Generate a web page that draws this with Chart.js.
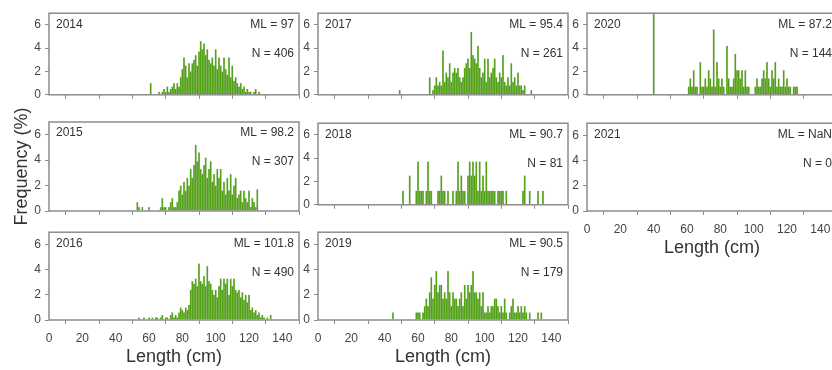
<!DOCTYPE html>
<html>
<head>
<meta charset="utf-8">
<title>Length frequency by year</title>
<script src="https://cdn.jsdelivr.net/npm/chart.js@4.4.1/dist/chart.umd.min.js"></script>
<style>
  html, body { margin: 0; padding: 0; background: #fff; overflow: hidden; }
  #figure { position: relative; width: 832px; height: 370px; overflow: hidden; }
  #figure canvas { position: absolute; }
</style>
</head>
<body>
<div id="figure"></div>
<script>
// Panels in layout order (column by column)
const years = ['2014', '2015', '2016', '2017', '2018', '2019', '2020', '2021'];
const meanLengths = ['97', '98.2', '101.8', '95.4', '90.7', '90.5', '87.2', 'NaN'];
const sampleSizes = ['406', '307', '490', '261', '81', '179', '144', '0'];

// Frequency (%) per 1 cm length class; first class is startYYYY
const start2014 = 61;
const freq2014 = [1.0, 0, 0, 0, 0, 0.25, 0, 0.25, 0.5, 0.25, 0.7, 0.25, 0.5, 0.7, 1.0,
  0.5, 1.0, 0.7, 1.5, 2.2, 3.2, 2.5, 1.5, 2.7, 2.0, 2.7, 3.0, 3.4, 2.5, 3.7,
  4.6, 3.9, 4.4, 3.4, 3.9, 3.0, 2.7, 3.2, 2.5, 3.9, 2.2, 3.2, 2.5, 2.0, 3.2,
  2.2, 1.7, 3.2, 1.5, 2.5, 1.2, 1.5, 1.0, 0.7, 1.0, 0.5, 0.7, 0.25, 0.5, 0.25,
  0.25, 0, 0.25, 0.5, 0, 0.25];

const start2015 = 53;
const freq2015 = [0.7, 0.3, 0, 0.3, 0, 0, 0, 0.3, 0, 0, 0, 0, 0, 0, 0.3,
  1.0, 0.3, 0.3, 0, 0.3, 0.7, 1.0, 0.3, 0.3, 0.7, 1.6, 2.0, 1.3, 2.3, 1.6,
  2.6, 2.0, 3.3, 2.6, 3.6, 5.2, 3.9, 4.6, 3.3, 2.9, 3.6, 4.2, 2.6, 3.3, 3.9,
  2.3, 2.9, 2.0, 3.3, 2.6, 3.3, 1.6, 2.3, 1.3, 2.6, 1.6, 2.9, 1.3, 2.0, 2.6,
  1.0, 1.3, 1.6, 0.7, 1.6, 1.0, 0.7, 1.6, 0.3, 1.0, 0.7, 0.3, 1.7];

const start2016 = 54;
const freq2016 = [0.2, 0, 0, 0.2, 0, 0, 0.2, 0, 0.2, 0, 0.2, 0.2, 0, 0.2, 0.4,
  0, 0.2, 0.2, 0, 0.4, 0.6, 0.2, 0.4, 0.2, 0.6, 1.0, 0.8, 0.6, 1.0, 0.8,
  1.2, 2.4, 3.1, 2.9, 3.3, 2.7, 4.5, 3.1, 2.9, 3.5, 2.7, 4.3, 3.1, 2.9, 2.4,
  2.0, 2.4, 1.8, 2.7, 3.3, 2.4, 3.3, 2.9, 3.3, 2.0, 3.3, 2.7, 3.3, 2.4, 2.2,
  2.4, 1.8, 2.2, 1.6, 2.0, 1.4, 2.0, 0.8, 1.0, 0.6, 0.8, 0.4, 0.6, 0.2, 0.4,
  0.2, 0, 0.2, 0, 0.4];

const start2017 = 49;
const freq2017 = [0.4, 0, 0, 0, 0, 0, 0, 0, 0, 0, 0, 0, 0, 0, 0, 0, 0, 0,
  1.5, 0, 0.4, 0.8, 1.5, 0.8, 1.1, 0.8, 3.8, 1.1, 1.9, 1.5, 2.7, 1.1, 1.9,
  2.3, 1.9, 2.3, 1.5, 1.1, 1.5, 2.3, 2.7, 3.1, 2.3, 5.4, 3.4, 3.1, 2.7, 4.2,
  2.3, 1.5, 1.9, 3.1, 1.1, 3.1, 1.5, 1.9, 2.3, 3.1, 1.5, 1.1, 1.9, 1.5, 3.4,
  1.1, 0.8, 1.5, 0.8, 2.7, 1.1, 1.5, 0.8, 1.9, 0.8, 0.8, 0.4, 0.8, 0, 0, 0, 0.4];

const start2018 = 51;
const freq2018 = [1.2, 0, 0, 0, 2.5, 0, 0, 0, 1.2, 3.7, 1.2, 1.2, 1.2, 0, 1.2,
  3.7, 1.2, 1.2, 0, 0, 0, 1.2, 1.2, 2.5, 1.2, 1.2, 0, 1.2, 0, 0,
  1.2, 0, 1.2, 3.7, 1.2, 2.5, 1.2, 1.2, 0, 2.5, 3.7, 2.5, 3.7, 2.5, 3.7,
  1.2, 3.7, 1.2, 2.5, 1.2, 3.7, 1.2, 1.2, 1.2, 1.2, 1.2, 0, 1.2, 1.2, 1.2,
  1.2, 0, 1.2, 0, 0, 0, 0, 0, 0, 0, 0, 0, 1.2, 2.5, 0, 0, 1.2, 0, 0, 0, 0,
  1.2, 0, 0, 1.2];

const start2019 = 45;
const freq2019 = [0.6, 0, 0, 0, 0, 0, 0, 0, 0, 0, 0, 0, 0, 0, 0.6, 0.6, 0.6, 0,
  0.6, 1.1, 1.7, 1.1, 2.2, 3.4, 1.7, 2.8, 3.9, 2.2, 2.8, 2.8, 1.7, 2.2, 1.7,
  3.9, 2.2, 1.1, 2.2, 1.7, 1.7, 1.1, 1.7, 2.2, 1.1, 2.8, 1.7, 2.8, 2.2, 2.8,
  3.9, 2.2, 2.2, 1.7, 2.2, 1.1, 2.2, 0.6, 0.6, 1.1, 0.6, 1.1, 1.1, 1.7, 1.7,
  1.1, 0.6, 1.1, 0.6, 1.7, 0.6, 0, 0.6, 1.1, 1.7, 0.6, 0.6, 1.1, 0.6, 1.1,
  0.6, 1.1, 0.6, 0, 0.6, 0, 0, 0, 0, 0.6, 0, 0.6];

const start2020 = 40;
const freq2020 = [7, 0, 0, 0, 0, 0, 0, 0, 0, 0, 0, 0, 0, 0, 0, 0, 0, 0, 0, 0, 0,
  0.7, 1.4, 0.7, 2.1, 0.7, 0.7, 0, 2.8, 0.7, 0.7, 1.4, 0.7, 2.1, 1.4, 0.7,
  5.6, 0.7, 2.8, 1.4, 0.7, 1.4, 0.7, 0, 4.2, 1.4, 0.7, 0.7, 1.4, 3.5, 2.1,
  2.1, 1.4, 2.1, 0.7, 2.1, 0.7, 0.7, 0, 0, 0, 0.7, 1.4, 0.7, 0.7, 1.4, 2.1,
  1.4, 2.8, 1.4, 0.7, 2.1, 1.4, 2.8, 0.7, 1.4, 0.7, 0.7, 2.1, 0.7, 1.4, 0.7,
  0.7, 0, 0.7, 0.7, 0.7];

const start2021 = 0;
const freq2021 = [];

const xTicks = [0, 20, 40, 60, 80, 100, 120, 140];
const yTicks = [0, 2, 4, 6];

const starts = [start2014, start2015, start2016, start2017, start2018, start2019, start2020, start2021];
const freqs = [freq2014, freq2015, freq2016, freq2017, freq2018, freq2019, freq2020, freq2021];

// panel geometry
const colLeft = [49, 318, 587];
const rowTop = [12, 122, 231];
const plotW = 250, plotH = 89;
const axisW = 49, padRight = 10;

const FONT = "'Liberation Sans', Arial, sans-serif";
const GREY = '#8c8c8c';

const boxPlugin = {
  id: 'panelBox',
  afterDraw(chart) {
    const a = chart.chartArea, ctx = chart.ctx;
    ctx.save();
    ctx.strokeStyle = GREY;
    ctx.lineWidth = 1.5;
    ctx.strokeRect(a.left, a.top, a.right - a.left, a.bottom - a.top);
    ctx.restore();
  }
};

const labelPlugin = {
  id: 'panelLabels',
  afterDraw(chart, args, opts) {
    const a = chart.chartArea, ctx = chart.ctx;
    ctx.save();
    ctx.font = '12px ' + FONT;
    ctx.fillStyle = '#333';
    ctx.textBaseline = 'middle';
    ctx.textAlign = 'left';
    ctx.fillText(opts.year, a.left + 7, a.top + 11);
    ctx.textAlign = 'right';
    ctx.fillText('ML = ' + opts.ml, a.right - 5, a.top + 11);
    ctx.fillText('N = ' + opts.n, a.right - 5, a.top + 40);
    ctx.restore();
  }
};

const figure = document.getElementById('figure');

years.forEach((year, i) => {
  const col = Math.floor(i / 3), row = i % 3;
  const isBottom = (i === 2 || i === 5 || i === 7);
  const hasYTitle = (i === 1);
  const axisH = isBottom ? 50 : 5;
  // the panel carrying the shared y title gets a taller canvas so the title fits
  const padTop = hasYTitle ? 45 : 10;
  const padBottom = hasYTitle ? 45 : 0;
  const w = axisW + plotW + padRight;
  const h = padTop + plotH + axisH + padBottom;

  const canvas = document.createElement('canvas');
  canvas.width = w;
  canvas.height = h;
  canvas.style.width = w + 'px';
  canvas.style.height = h + 'px';
  canvas.style.left = (colLeft[col] - axisW) + 'px';
  canvas.style.top = (rowTop[row] - padTop) + 'px';
  figure.appendChild(canvas);

  const points = freqs[i].map((v, k) => ({ x: starts[i] + k, y: v }));

  new Chart(canvas.getContext('2d'), {
    type: 'bar',
    data: {
      datasets: [{
        label: year,
        data: points,
        backgroundColor: 'rgb(82, 164, 22)',
        borderColor: 'rgba(90, 120, 55, 0.3)',
        borderWidth: 0.4,
        barPercentage: 1,
        categoryPercentage: 1
      }]
    },
    options: {
      responsive: false,
      animation: false,
      layout: { padding: { top: padTop, right: padRight, left: 0, bottom: padBottom } },
      scales: {
        x: {
          type: 'linear',
          min: 0,
          max: 150,
          offset: false,
          afterFit: s => { s.height = axisH; },
          afterBuildTicks: s => { s.ticks = xTicks.map(v => ({ value: v })); },
          grid: { drawOnChartArea: false, drawTicks: true, tickLength: 4, color: GREY },
          border: { display: false },
          ticks: {
            display: isBottom,
            padding: 7,
            color: '#444',
            font: { size: 12, family: FONT },
            maxRotation: 0
          },
          title: {
            display: isBottom,
            text: 'Length (cm)',
            color: '#333',
            font: { size: 18, family: FONT },
            padding: { top: 0, bottom: 2 }
          }
        },
        y: {
          min: 0,
          max: 7,
          afterFit: s => { s.width = axisW; },
          afterBuildTicks: s => { s.ticks = yTicks.map(v => ({ value: v })); },
          grid: { drawOnChartArea: false, drawTicks: true, tickLength: 4, color: GREY },
          border: { display: false },
          ticks: {
            padding: 4,
            color: '#444',
            font: { size: 12, family: FONT }
          },
          title: {
            display: hasYTitle,
            text: 'Frequency (%)',
            color: '#333',
            font: { size: 18, family: FONT },
            padding: { top: 11, bottom: 0 }
          }
        }
      },
      plugins: {
        legend: { display: false },
        tooltip: { enabled: false },
        panelLabels: { year: year, ml: meanLengths[i], n: sampleSizes[i] }
      }
    },
    plugins: [boxPlugin, labelPlugin]
  });
});
</script>
</body>
</html>
